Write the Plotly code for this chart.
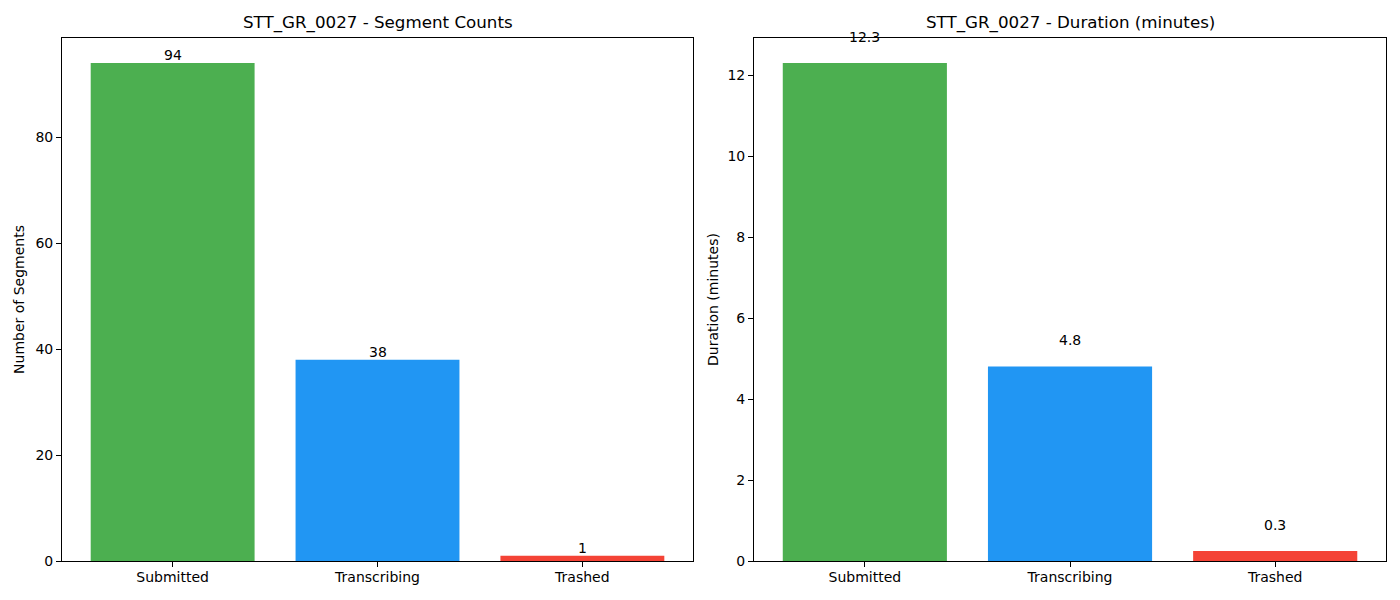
import plotly.graph_objects as go

categories = ["Submitted", "Transcribing", "Trashed"]
segment_counts = [94, 38, 1]
durations = [12.3, 4.8, 0.25]
duration_labels = ["12.3", "4.8", "0.3"]
colors = ["#4CAF50", "#2196F3", "#F44336"]
left_title = "STT_GR_0027 - Segment Counts"
right_title = "STT_GR_0027 - Duration (minutes)"

FONT = "DejaVu Sans"
xpos = [0, 1, 2]
H_EFF = 592.0
y_dom = [1 - 561 / H_EFF, 1 - 38 / H_EFF]
title_y = 1 - 23 / H_EFF

fig = go.Figure()
fig.add_trace(go.Bar(x=xpos, y=segment_counts, marker=dict(color=colors, line=dict(width=0)),
                     width=0.8, xaxis="x", yaxis="y", showlegend=False, hoverinfo="skip"))
fig.add_trace(go.Bar(x=xpos, y=durations, marker=dict(color=colors, line=dict(width=0)),
                     width=0.8, xaxis="x2", yaxis="y2", showlegend=False, hoverinfo="skip"))

annotations = []
for i, v in enumerate(segment_counts):
    annotations.append(dict(x=xpos[i], y=v, xref="x", yref="y", text=str(v), showarrow=False,
                            yanchor="bottom", yshift=-2, font=dict(family=FONT, size=14, color="black")))
for i, v in enumerate(durations):
    annotations.append(dict(x=xpos[i], y=v + 0.45, xref="x2", yref="y2", text=duration_labels[i],
                            showarrow=False, yanchor="bottom", yshift=-2,
                            font=dict(family=FONT, size=14, color="black")))
annotations.append(dict(x=(0.0443 + 0.495) / 2, y=title_y, xref="paper", yref="paper",
                        text=left_title, showarrow=False, xanchor="center", yanchor="middle",
                        font=dict(family=FONT, size=16.7, color="black")))
annotations.append(dict(x=(0.5386 + 0.99) / 2, y=title_y, xref="paper", yref="paper",
                        text=right_title, showarrow=False, xanchor="center", yanchor="middle",
                        font=dict(family=FONT, size=16.7, color="black")))

axis_common = dict(showline=True, linecolor="black", linewidth=1, mirror=True, ticks="outside",
                   ticklen=5, tickcolor="black", tickwidth=1, showgrid=False, zeroline=False,
                   tickfont=dict(family=FONT, size=14, color="black"))

fig.update_layout(
    width=1400, height=600,
    margin=dict(l=0, r=0, t=0, b=0),
    paper_bgcolor="white", plot_bgcolor="white",
    font=dict(family=FONT, color="black"),
    annotations=annotations,
    xaxis=dict(domain=[0.0443, 0.495], range=[-0.54, 2.54], tickvals=xpos, ticktext=categories,
               anchor="y", ticklabelstandoff=-2, **axis_common),
    yaxis=dict(domain=y_dom, range=[0, 98.7], tickvals=[0, 20, 40, 60, 80],
               anchor="x", title=dict(text="Number of Segments", standoff=7,
                                      font=dict(family=FONT, size=14, color="black")), **axis_common),
    xaxis2=dict(domain=[0.5386, 0.99], range=[-0.54, 2.54], tickvals=xpos, ticktext=categories,
                anchor="y2", ticklabelstandoff=-2, **axis_common),
    yaxis2=dict(domain=y_dom, range=[0, 12.915], tickvals=[0, 2, 4, 6, 8, 10, 12],
                anchor="x2", title=dict(text="Duration (minutes)", standoff=5,
                                        font=dict(family=FONT, size=14, color="black")), **axis_common),
)

fig.write_html("out.html", config={"displayModeBar": False},
               post_script="document.body.style.margin='0';")
